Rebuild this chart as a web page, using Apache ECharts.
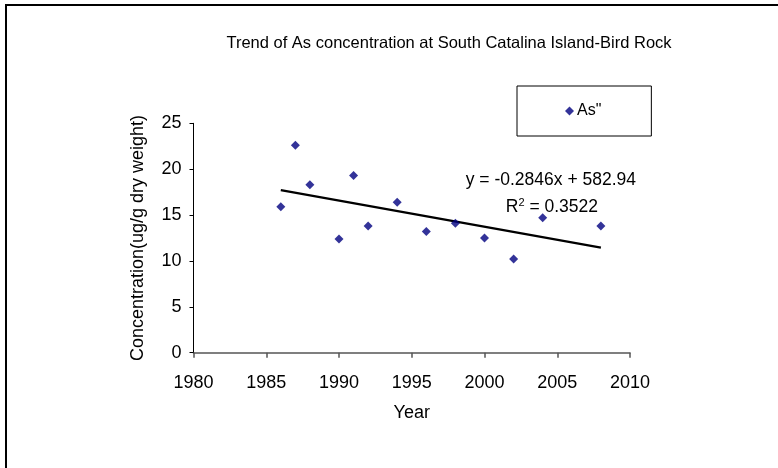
<!DOCTYPE html>
<html>
<head>
<meta charset="utf-8">
<script src="https://cdn.jsdelivr.net/npm/echarts@6/dist/echarts.min.js"></script>
<style>html,body{margin:0;padding:0;background:#fff;}#c{width:778px;height:468px;}</style>
</head>
<body>
<div id="c"></div>
<script>
const years = [1986, 1987, 1988, 1990, 1991, 1992, 1994, 1996, 1998, 2000, 2002, 2004, 2008];
const asValues = [15.9, 22.6, 18.3, 12.4, 19.3, 13.8, 16.4, 13.2, 14.1, 12.5, 10.2, 14.7, 13.8];
const trendYears = [1986, 2008];
const trendValues = [17.72, 11.46];
const xTicks = [1980, 1985, 1990, 1995, 2000, 2005, 2010];
const yTicks = [0, 5, 10, 15, 20, 25];
const titleText = 'Trend of As concentration at South Catalina Island-Bird Rock';
const eqText = 'y = -0.2846x + 582.94';
const r2Text = 'R{s|2} = 0.3522';

const font = '"Liberation Sans", Arial, sans-serif';
const chart = echarts.init(document.getElementById('c'), null, {renderer: 'canvas'});
chart.setOption({
  animation: false,
  backgroundColor: '#fff',
  textStyle: {fontFamily: font},
  title: {
    text: titleText, left: 444, top: 30, textAlign: 'center',
    textStyle: {fontFamily: font, fontSize: 16.5, fontWeight: 'normal', color: '#000'}
  },
  legend: {
    left: 517, top: 86,
    padding: [17, 50, 17, 48],
    borderColor: '#000', borderWidth: 1,
    itemWidth: 9, itemHeight: 9, itemGap: 5,
    icon: 'diamond',
    data: [{name: 'As"'}],
    textStyle: {fontFamily: font, fontSize: 16, color: '#000', padding: [0,0,0,-2]}
  },
  grid: {left: 193.5, top: 123.3, width: 436.5, height: 229.4, containLabel: false},
  xAxis: {
    type: 'value', min: xTicks[0], max: xTicks[xTicks.length-1], interval: 5,
    name: 'Year', nameLocation: 'middle', nameGap: 51,
    nameTextStyle: {fontFamily: font, fontSize: 18, color: '#000'},
    axisLine: {lineStyle: {color: '#555', width: 1.5}},
    axisTick: {show: true, length: 5, lineStyle: {color: '#555', width: 1.5}},
    axisLabel: {fontFamily: font, fontSize: 18, color: '#000', margin: 21,
      formatter: v => String(v)},
    splitLine: {show: false}
  },
  yAxis: {
    type: 'value', min: yTicks[0], max: yTicks[yTicks.length-1], interval: 5,
    name: 'Concentration(ug/g dry weight)', nameLocation: 'middle', nameGap: 46,
    nameTextStyle: {fontFamily: font, fontSize: 18, color: '#000'},
    axisLine: {show: true, lineStyle: {color: '#000', width: 1}},
    axisTick: {show: true, length: 4, lineStyle: {color: '#000', width: 1}},
    axisLabel: {fontFamily: font, fontSize: 18, color: '#000', margin: 12},
    splitLine: {show: false}
  },
  series: [
    {
      name: 'As"', type: 'scatter', symbol: 'diamond', symbolSize: 9,
      itemStyle: {color: '#000080'},
      data: years.map((y, i) => [y, asValues[i]]),
      z: 3
    },
    {
      name: 'trend', type: 'line', symbol: 'none', showSymbol: false,
      lineStyle: {color: '#000', width: 2.2},
      data: trendYears.map((y, i) => [y, trendValues[i]]),
      z: 2
    }
  ],
  graphic: [
    {type: 'rect', shape: {x: 6, y: 5, width: 800, height: 500},
     style: {fill: 'none', stroke: '#000', lineWidth: 2}, silent: true},
    {type: 'text', x: 636, y: 180,
     style: {text: eqText, font: '17.5px ' + font, fill: '#000', textAlign: 'right', textVerticalAlign: 'middle'}},
    {type: 'text', x: 598, y: 207,
     style: {text: r2Text, font: '17.5px ' + font, fill: '#000', textAlign: 'right', textVerticalAlign: 'middle',
       rich: {s: {fontSize: 11, fontFamily: font, verticalAlign: 'top', padding: [0,0,9,0]}}}}
  ]
});
</script>
</body>
</html>
